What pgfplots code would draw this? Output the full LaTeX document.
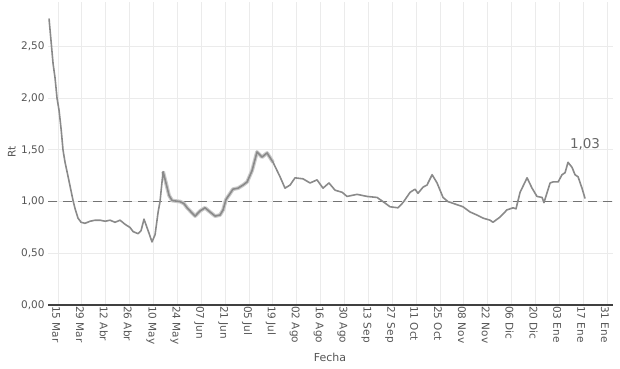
\documentclass[border=0pt]{standalone}
\usepackage{pgfplots}
\pgfplotsset{compat=1.18}
\usepackage{fontspec}
\setmainfont{DejaVu Sans}
\definecolor{linec}{HTML}{8A8A8A}
\definecolor{bandc}{HTML}{CBCBCB}
\definecolor{gridc}{HTML}{EBEBEB}
\definecolor{txtc}{HTML}{555555}
\begin{document}
\begin{tikzpicture}
\path[use as bounding box] (0,0) rectangle (620pt,368pt);
\begin{axis}[
  at={(48pt,63pt)}, anchor=south west,
  scale only axis, width=565pt, height=303pt,
  xmin=-5.9, xmax=325.5, ymin=0, ymax=2.93,
  xtick={0,14,...,322},
  xticklabels={15 Mar,29 Mar,12 Abr,26 Abr,10 May,24 May,07 Jun,21 Jun,05 Jul,19 Jul,02 Ago,16 Ago,30 Ago,13 Sep,27 Sep,11 Oct,25 Oct,08 Nov,22 Nov,06 Dic,20 Dic,03 Ene,17 Ene,31 Ene},
  xticklabel style={rotate=-90, anchor=west, font=\fontsize{10.5}{12}\selectfont, text=txtc, inner sep=1pt, xshift=0pt, yshift=-2pt},
  ytick={0,0.5,1,1.5,2,2.5},
  yticklabel style={font=\fontsize{10.5}{12}\selectfont, text=txtc, /pgf/number format/.cd, fixed, fixed zerofill, precision=2, use comma},
  /pgf/number format/assume math mode=true,
  grid=major, major grid style={gridc, line width=0.9pt},
  axis line style={draw=none},
  tick style={draw=none},
  xlabel={Fecha}, ylabel={Rt},
  xlabel style={font=\fontsize{11}{13}\selectfont, text=txtc, at={(axis description cs:0.499,0)}, anchor=center, yshift=-52pt},
  ylabel style={font=\fontsize{10.5}{12}\selectfont, text=txtc, at={(axis description cs:-0.064,0.505)}, anchor=center},
  clip=false,
]
\draw[color=black!75, line width=1.3pt] (axis cs:-5.9,0) -- (axis cs:325.5,0);
\addplot[color=black!55, line width=1.5pt, dash pattern=on 9pt off 6pt] coordinates {(-5.9,1) (325.5,1)};
% confidence band approximation
\addplot[color=bandc, line width=3.8pt, line join=round] coordinates {
(61.6,1.29)(63.3,1.18)(65.1,1.06)(66.9,1.01)(71.6,1.00)(73.9,0.98)(75.7,0.94)(78.0,0.90)(80.4,0.86)(83.3,0.91)(86.2,0.94)(89.1,0.90)(92.1,0.86)(95.0,0.87)(96.8,0.92)(98.5,1.02)(102.6,1.12)(105.6,1.13)(108.5,1.16)(110.9,1.19)(113.8,1.30)(116.7,1.48)(119.6,1.43)(122.6,1.47)(126.1,1.38)
};
\addplot[color=linec, line width=1.6pt, line join=round] coordinates {
(-5.3,2.77)(-4.1,2.55)(-2.9,2.33)(-1.8,2.20)(-0.6,2.00)(0.6,1.88)(1.8,1.70)(2.9,1.50)(4.1,1.38)(5.9,1.24)(8.8,1.01)(10.0,0.93)(11.7,0.84)(13.5,0.80)(15.8,0.79)(18.8,0.81)(21.7,0.82)(24.6,0.82)(27.6,0.81)(30.5,0.82)(33.4,0.80)(36.4,0.82)(39.3,0.78)(42.2,0.75)(44.0,0.71)(46.9,0.69)(48.7,0.72)(50.4,0.83)(52.8,0.72)(55.1,0.61)(56.9,0.68)(58.7,0.90)(59.8,1.00)(61.6,1.29)(63.3,1.18)(65.1,1.06)(66.9,1.01)(71.6,1.00)(73.9,0.98)(75.7,0.94)(78.0,0.90)(80.4,0.86)(83.3,0.91)(86.2,0.94)(89.1,0.90)(92.1,0.86)(95.0,0.87)(96.8,0.92)(98.5,1.02)(102.6,1.12)(105.6,1.13)(108.5,1.16)(110.9,1.19)(113.8,1.30)(116.7,1.48)(119.6,1.43)(122.6,1.47)(126.1,1.38)(130.2,1.24)(133.1,1.13)(136.1,1.16)(139.0,1.23)(143.7,1.22)(147.8,1.18)(151.9,1.21)(155.4,1.13)(158.9,1.18)(162.5,1.11)(166.6,1.09)(169.5,1.05)(175.4,1.07)(181.2,1.05)(187.1,1.04)(190.6,1.00)(194.7,0.95)(199.4,0.94)(202.3,0.99)(206.5,1.09)(209.4,1.12)(211.1,1.08)(214.1,1.14)(216.4,1.16)(219.4,1.26)(222.3,1.18)(225.8,1.04)(228.7,1.00)(234.0,0.97)(237.5,0.95)(241.6,0.90)(245.7,0.87)(249.3,0.84)(253.4,0.82)(255.1,0.80)(259.2,0.85)(263.3,0.92)(266.9,0.94)(268.6,0.93)(271.0,1.09)(275.1,1.23)(278.0,1.13)(280.9,1.05)(283.9,1.04)(285.0,0.99)(288.6,1.18)(290.3,1.19)(293.3,1.19)(295.6,1.26)(297.4,1.28)(299.1,1.38)(301.5,1.33)(303.2,1.26)(305.0,1.24)(307.3,1.13)(309.1,1.03)
};
\node[text=black!60, font=\fontsize{13.5}{15}\selectfont] at (axis cs:309.1,1.55) {1,03};
\end{axis}
\end{tikzpicture}
\end{document}
